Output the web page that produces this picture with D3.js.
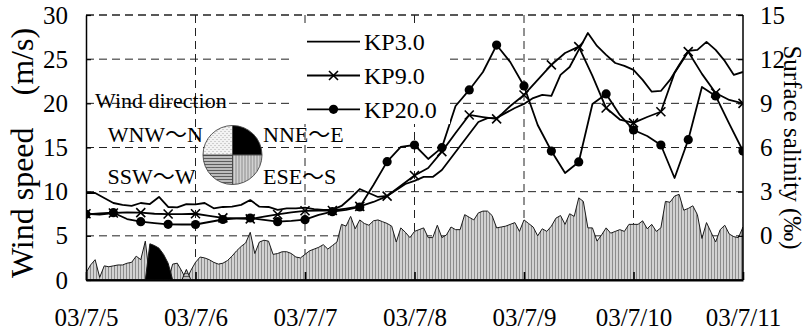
<!DOCTYPE html>
<html>
<head>
<meta charset="utf-8">
<script src="https://cdn.jsdelivr.net/npm/d3@7"></script>
<style>
  html, body { margin: 0; padding: 0; background: #fff; }
  svg { display: block; font-family: "Liberation Serif", "Times New Roman", "Noto Sans CJK JP", serif; }
</style>
</head>
<body>
<svg id="chart" width="806" height="330"></svg>
<script>
// ---- data -------------------------------------------------------------
const dayLabels = ["03/7/5", "03/7/6", "03/7/7", "03/7/8", "03/7/9", "03/7/10", "03/7/11"];
const windTicks = [0, 5, 10, 15, 20, 25, 30];
const salinityTicks = [0, 3, 6, 9, 12, 15];

// hourly wind speed (m/s) from 03/7/5 00:00
const windSpeed = [
  0.8, 1.7, 2.3, 0.3, 1.6, 1.5, 1.6, 1.7, 1.7, 1.9, 2.0, 2.7, 2.3, 4.4, 4.1, 3.9, 3.6, 2.9, 1.9, 1.8,
  1.9, 1.0, 1.2, 1.1, 2.0, 2.6, 2.5, 2.3, 2.0, 1.8, 1.9, 2.2, 2.7, 3.3, 3.8, 4.2, 5.4, 3.0, 4.3, 4.5,
  4.4, 2.9, 3.0, 3.2, 3.2, 3.0, 2.6, 2.5, 2.9, 3.3, 3.5, 3.7, 4.0, 3.5, 3.9, 4.3, 6.3, 6.1, 7.2, 5.8,
  6.8, 6.4, 6.2, 6.7, 6.8, 6.6, 6.4, 6.1, 4.3, 5.9, 5.4, 4.8, 5.5, 5.7, 5.9, 4.8, 4.8, 6.2, 4.8, 5.1,
  6.0, 5.7, 5.7, 7.4, 7.1, 6.8, 7.6, 7.8, 7.8, 7.3, 5.9, 6.0, 6.1, 6.3, 6.5, 5.5, 6.8, 6.4, 6.0, 5.0,
  5.8, 5.5, 6.1, 7.0, 7.3, 6.3, 7.5, 7.2, 9.3, 8.9, 5.9, 5.9, 4.4, 5.1, 5.9, 5.3, 5.5, 5.7, 5.5, 6.3,
  6.3, 6.3, 6.7, 5.8, 6.3, 5.5, 5.9, 8.9, 8.8, 9.5, 9.7, 7.9, 8.1, 8.4, 7.4, 4.7, 6.5, 5.4, 4.3, 5.7,
  6.2, 5.2, 4.9, 4.8, 6.0
];
// wind direction class by hour range [first hour, last hour, class]
const windDirRuns = [
  [0, 13, "ESE～S"],
  [14, 18, "NNE～E"],
  [19, 21, "ESE～S"],
  [22, 22, "SSW～W"],
  [23, 144, "ESE～S"]
];
const directionClasses = ["NNE～E", "ESE～S", "SSW～W", "WNW～N"];

// surface salinity (‰)
const kp3Step = 2;   // hours
const kp3 = [
  2.91, 2.91, 2.57, 2.23, 2.10, 2.03, 2.23, 2.16, 2.64, 1.96, 1.93, 2.16, 2.13, 2.23, 1.87, 1.96, 1.98, 2.10, 2.43, 1.98,
  1.96, 1.76, 1.87, 1.87, 1.91, 1.82, 1.76, 1.76, 2.03, 2.57, 3.18, 2.91, 2.64, 2.71, 3.11, 3.52, 3.73, 4.00, 4.00, 4.47,
  5.29, 6.10, 6.92, 7.73, 8.00, 8.00, 8.35, 8.68, 8.96, 9.36, 9.57, 9.50, 10.93, 11.47, 12.63, 13.78, 12.90, 12.29, 11.74, 11.54,
  11.27, 10.59, 9.79, 9.84, 10.59, 11.61, 12.56, 12.63, 13.17, 12.63, 11.88, 10.93, 11.13
];
const kpStep = 3;    // hours, KP9.0 and KP20.0
const kp9 = [
  1.50, 1.45, 1.55, 1.60, 1.58, 1.50, 1.48, 1.48, 1.50, 1.35, 1.22, 1.18, 1.15, 1.30, 1.45, 1.60, 1.70, 1.72, 1.72, 1.85,
  2.00, 2.30, 2.70, 3.40, 4.10, 4.61, 5.72, 6.99, 8.21, 8.07, 7.94, 8.82, 9.57, 10.59, 11.61, 12.42, 12.85, 10.86, 8.68, 7.90,
  7.67, 8.07, 8.43, 11.06, 12.51, 11.00, 9.70, 9.23, 9.00
];
const kp20 = [
  1.46, 1.52, 1.57, 1.14, 0.96, 0.87, 0.78, 0.77, 0.77, 0.94, 1.11, 1.18, 1.21, 1.08, 0.96, 1.01, 1.10, 1.42, 1.64, 1.76,
  1.96, 3.45, 5.04, 6.04, 6.17, 5.22, 5.99, 8.82, 9.91, 11.13, 12.96, 11.80, 10.18, 7.53, 5.76, 4.27, 5.02, 8.96, 9.64, 8.21,
  7.19, 6.78, 6.17, 3.93, 6.53, 10.11, 9.50, 7.60, 5.76
];
const markerEvery = 6; // hours

// ---- layout -----------------------------------------------------------
const P = { left: 86, right: 743, top: 15, bottom: 280 };
const totalHours = (dayLabels.length - 1) * 24;
const serif = "'Liberation Serif', 'Times New Roman', 'Noto Sans CJK JP', serif";

const svg = d3.select("#chart");
const x = d3.scaleLinear().domain([0, totalHours]).range([P.left, P.right]);
const yW = d3.scaleLinear().domain([0, 30]).range([P.bottom, P.top]);
const yS = d3.scaleLinear().domain([-3, 15]).range([P.bottom, P.top]);

// ---- fills ------------------------------------------------------------
const defs = svg.append("defs");
const vs = defs.append("pattern").attr("id", "vstripe").attr("patternUnits", "userSpaceOnUse")
  .attr("width", 3).attr("height", 10);
vs.append("rect").attr("width", 3).attr("height", 10).attr("fill", "#d2d2d2");
vs.append("rect").attr("width", 1).attr("height", 10).attr("fill", "#8c8c8c");

const hs = defs.append("pattern").attr("id", "hstripe").attr("patternUnits", "userSpaceOnUse")
  .attr("width", 10).attr("height", 3);
hs.append("rect").attr("width", 10).attr("height", 3).attr("fill", "#bcbcbc");
hs.append("rect").attr("width", 10).attr("height", 1).attr("fill", "#5c5c5c");

const st = defs.append("pattern").attr("id", "stipple").attr("patternUnits", "userSpaceOnUse")
  .attr("width", 4).attr("height", 4);
st.append("rect").attr("width", 4).attr("height", 4).attr("fill", "#f3f3f3");
st.append("rect").attr("x", 0).attr("y", 0).attr("width", 1).attr("height", 1).attr("fill", "#a8a8a8");
st.append("rect").attr("x", 2).attr("y", 2).attr("width", 1).attr("height", 1).attr("fill", "#a8a8a8");

defs.append("clipPath").attr("id", "plotClip").append("rect")
  .attr("x", P.left).attr("y", P.top - 6).attr("width", P.right - P.left).attr("height", P.bottom - P.top + 6);

const dirFill = {
  "NNE～E": "#000",
  "ESE～S": "url(#vstripe)",
  "SSW～W": "url(#hstripe)",
  "WNW～N": "url(#stipple)"
};

// ---- grid -------------------------------------------------------------
const grid = svg.append("g").attr("stroke", "#222").attr("stroke-dasharray", "8,5").attr("fill", "none");
grid.selectAll("line.h").data(windTicks.filter(d => d > 0)).join("line")
  .attr("x1", P.left).attr("x2", P.right)
  .attr("y1", d => yW(d)).attr("y2", d => yW(d))
  .attr("stroke-width", d => d === 30 ? 1.6 : 1);
const dayHours = dayLabels.map((_, i) => i * 24);
grid.selectAll("line.v").data(dayHours.slice(1, -1)).join("line")
  .attr("x1", d => x(d)).attr("x2", d => x(d))
  .attr("y1", P.top).attr("y2", P.bottom)
  .attr("stroke-width", 1);

// ---- wind speed areas by direction -----------------------------------
const dirOf = windSpeed.map((_, h) => windDirRuns.find(r => h >= r[0] && h <= r[1])[2]);
const windArea = d3.area()
  .x((d, i) => x(i))
  .y0(yW(0))
  .y1(d => yW(d));
const windG = svg.append("g").attr("clip-path", "url(#plotClip)");
["ESE～S", "WNW～N", "SSW～W", "NNE～E"].forEach(dir => {
  const vals = windSpeed.map((w, h) => dirOf[h] === dir ? w : 0);
  if (!vals.some(v => v > 0)) return;
  windG.append("path").datum(vals)
    .attr("d", windArea)
    .attr("fill", dirFill[dir])
    .attr("stroke", "#1a1a1a")
    .attr("stroke-width", 1)
    .attr("stroke-linejoin", "round");
});

// ---- axes -------------------------------------------------------------
const fs = 25;
const leftAxis = svg.append("g").attr("transform", `translate(${P.left},0)`)
  .call(d3.axisLeft(yW).tickValues(windTicks).tickSizeInner(-5).tickSizeOuter(0).tickPadding(18));
const rightAxis = svg.append("g").attr("transform", `translate(${P.right},0)`)
  .call(d3.axisRight(yS).tickValues(salinityTicks).tickSizeInner(-5).tickSizeOuter(0).tickPadding(17));
rightAxis.select(".domain").attr("d", `M0,${P.top}V${P.bottom}`);
const bottomAxis = svg.append("g").attr("transform", `translate(0,${P.bottom})`)
  .call(d3.axisBottom(x).tickValues(dayHours).tickFormat((d, i) => dayLabels[i])
    .tickSizeInner(-8).tickSizeOuter(0).tickPadding(28));

[leftAxis, rightAxis, bottomAxis].forEach(a => {
  a.attr("font-family", serif);
  a.selectAll("text").attr("font-size", fs).attr("fill", "#000").attr("font-family", serif);
  a.selectAll(".tick line").attr("stroke", "#000").attr("stroke-width", 1.2);
  a.select(".domain").attr("stroke", "#000");
});
leftAxis.select(".domain").attr("stroke-width", 1.5);
rightAxis.select(".domain").attr("stroke-width", 1.5);
bottomAxis.select(".domain").attr("stroke-width", 2.2);
bottomAxis.selectAll(".tick line").attr("stroke-width", 1.6);

// ---- salinity lines ---------------------------------------------------
const lineG = svg.append("g").attr("clip-path", "url(#plotClip)");
function salLine(step) {
  return d3.line().x((d, i) => x(i * step)).y(d => yS(d));
}
const series = [
  { name: "KP3.0", values: kp3, step: kp3Step, marker: "none" },
  { name: "KP9.0", values: kp9, step: kpStep, marker: "cross" },
  { name: "KP20.0", values: kp20, step: kpStep, marker: "dot" }
];
series.forEach(s => {
  lineG.append("path").datum(s.values)
    .attr("d", salLine(s.step))
    .attr("fill", "none").attr("stroke", "#000").attr("stroke-width", 1.8)
    .attr("stroke-linejoin", "round");
});

function drawMarker(g, kind, cx, cy) {
  if (kind === "cross") {
    const r = 4.5;
    g.append("path")
      .attr("d", `M${cx - r},${cy - r}L${cx + r},${cy + r}M${cx - r},${cy + r}L${cx + r},${cy - r}`)
      .attr("stroke", "#000").attr("stroke-width", 1.6).attr("fill", "none");
  } else if (kind === "dot") {
    g.append("circle").attr("cx", cx).attr("cy", cy).attr("r", 4.6).attr("fill", "#000");
  }
}
series.filter(s => s.marker !== "none").forEach(s => {
  const every = markerEvery / s.step;
  s.values.forEach((v, i) => {
    if (i % every === 0) drawMarker(lineG, s.marker, x(i * s.step), yS(v));
  });
});

// ---- series legend ----------------------------------------------------
svg.append("rect").attr("x", 290).attr("y", 26).attr("width", 160).attr("height", 98).attr("fill", "#fff");
const legend = svg.append("g").attr("font-family", serif);
series.forEach((s, k) => {
  const ly = 41.7 + k * 33.8;
  legend.append("line").attr("x1", 307).attr("x2", 360).attr("y1", ly).attr("y2", ly)
    .attr("stroke", "#000").attr("stroke-width", 1.8);
  drawMarker(legend, s.marker, 333.5, ly);
  legend.append("text").attr("x", 364).attr("y", ly).attr("dy", "0.35em")
    .attr("font-size", 24).text(s.name);
});

// ---- wind direction key ----------------------------------------------
const key = svg.append("g").attr("font-family", serif);
key.append("text").attr("x", 95).attr("y", 107.5).attr("font-size", 22).text("Wind direction");
const pc = { x: 232.5, y: 155, r: 29.5 };
const pie = d3.pie().value(1).sort(null);
const arc = d3.arc().innerRadius(0).outerRadius(pc.r);
key.append("g").attr("transform", `translate(${pc.x},${pc.y})`)
  .selectAll("path").data(pie(directionClasses)).join("path")
  .attr("d", arc)
  .attr("fill", d => dirFill[d.data])
  .attr("stroke", "#444").attr("stroke-width", 0.9);
key.append("text").attr("x", pc.x - 29.5).attr("y", 141.5).attr("text-anchor", "end")
  .attr("font-size", 22).text("WNW～N");
key.append("text").attr("x", pc.x + 30.5).attr("y", 141.5)
  .attr("font-size", 22).text("NNE～E");
key.append("text").attr("x", pc.x - 37).attr("y", 184).attr("text-anchor", "end")
  .attr("font-size", 22).text("SSW～W");
key.append("text").attr("x", pc.x + 30.5).attr("y", 184)
  .attr("font-size", 22).text("ESE～S");

// ---- axis titles ------------------------------------------------------
svg.append("text").attr("transform", "translate(33,153) rotate(-90)")
  .attr("font-family", serif)
  .attr("text-anchor", "middle").attr("font-size", 32).text("Wind speed\u3000(m/s)");
svg.append("text").attr("transform", `translate(784,${(P.top + P.bottom) / 2}) rotate(90)`)
  .attr("font-family", serif)
  .attr("text-anchor", "middle").attr("font-size", 25).text("Surface salinity (‰)");
</script>
</body>
</html>
